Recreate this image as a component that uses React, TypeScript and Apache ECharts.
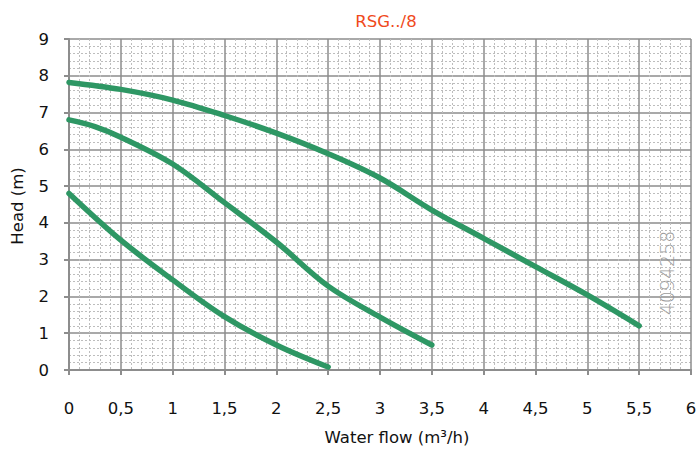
import React, { useEffect, useRef } from "react";
import * as echarts from "echarts";

const titleText = "RSG../8";
const xAxisTitle = "Water flow (m³/h)";
const yAxisTitle = "Head (m)";
const codeText = "4094258";

const curveTopFlow = [0, 0.5, 1, 1.5, 2, 2.5, 3, 3.5, 4, 4.5, 5, 5.5];
const curveTopHead = [7.82, 7.63, 7.34, 6.92, 6.44, 5.88, 5.22, 4.35, 3.58, 2.81, 2.04, 1.2];

const curveMidFlow = [0, 0.25, 0.5, 1, 1.5, 2, 2.5, 3, 3.5];
const curveMidHead = [6.8, 6.62, 6.33, 5.6, 4.55, 3.48, 2.28, 1.44, 0.68];

const curveLowFlow = [0, 0.5, 1, 1.5, 2, 2.5];
const curveLowHead = [4.8, 3.53, 2.45, 1.45, 0.68, 0.08];

const LINE_COLOR = "#2e9764";
const FONT = "'DejaVu Sans', sans-serif";
const FS = 16.5;

function pairs(xs: number[], ys: number[]) {
  return xs.map((x, i) => [x, ys[i]]);
}

export default function App() {
  const ref = useRef<HTMLDivElement>(null);
  useEffect(() => {
    if (!ref.current) return;
    const chart = echarts.init(ref.current, null, { renderer: "svg" });
    const majorLine = { show: true, lineStyle: { color: "#8d8d8d", width: 1.5 } };
    const minorLine = { show: true, lineStyle: { color: "#bdbdbd", width: 1, type: [2, 2] as any } };
    const mkSeries = (xs: number[], ys: number[]) => ({
      type: "line",
      data: pairs(xs, ys),
      smooth: 0.35,
      showSymbol: false,
      symbol: "none",
      lineStyle: { color: LINE_COLOR, width: 5.5, cap: "round" },
    });
    chart.setOption({
      animation: false,
      grid: { left: 69, right: 9, top: 39, bottom: 80 },
      xAxis: {
        type: "value",
        min: 0,
        max: 6,
        interval: 0.5,
        axisLine: { show: true, onZero: false, lineStyle: { color: "#8d8d8d", width: 2 } },
        axisTick: { show: true, length: 5, lineStyle: { color: "#8d8d8d", width: 2 } },
        axisLabel: {
          margin: 30,
          color: "#111",
          fontSize: FS,
          fontFamily: FONT,
          formatter: (v: number) => String(v).replace(".", ","),
        },
        splitLine: majorLine,
        minorTick: { show: false, splitNumber: 5 },
        minorSplitLine: minorLine,
      },
      yAxis: {
        type: "value",
        min: 0,
        max: 9,
        interval: 1,
        axisLine: { show: true, onZero: false, lineStyle: { color: "#8d8d8d", width: 2 } },
        axisTick: { show: true, length: 5, lineStyle: { color: "#8d8d8d", width: 2 } },
        axisLabel: { margin: 20, color: "#111", fontSize: FS, fontFamily: FONT },
        splitLine: majorLine,
        minorTick: { show: false, splitNumber: 5 },
        minorSplitLine: minorLine,
      },
      series: [
        mkSeries(curveTopFlow, curveTopHead),
        mkSeries(curveMidFlow, curveMidHead),
        mkSeries(curveLowFlow, curveLowHead),
      ],
      graphic: [
        {
          type: "text",
          x: 386,
          y: 21,
          style: {
            text: titleText,
            fill: "#f04a1c",
            fontSize: FS,
            fontFamily: FONT,
            align: "center",
            verticalAlign: "middle",
          },
        },
        {
          type: "text",
          x: 397,
          y: 437,
          style: {
            text: xAxisTitle,
            fill: "#111",
            fontSize: FS,
            fontFamily: FONT,
            align: "center",
            verticalAlign: "middle",
          },
        },
        {
          type: "text",
          x: 17,
          y: 206,
          rotation: Math.PI / 2,
          style: {
            text: yAxisTitle,
            fill: "#111",
            fontSize: FS,
            fontFamily: FONT,
            align: "center",
            verticalAlign: "middle",
          },
        },
        {
          type: "text",
          x: 667,
          y: 273,
          rotation: Math.PI / 2,
          style: {
            text: codeText,
            fill: "#9c9c9c",
            fontSize: 19,
            fontFamily: FONT,
            fontWeight: 300,
            align: "center",
            verticalAlign: "middle",
          },
        },
      ],
    });
    return () => chart.dispose();
  }, []);
  return (
    <div
      ref={ref}
      style={{ position: "fixed", left: 0, top: 0, width: 700, height: 450, background: "#fff" }}
    />
  );
}
